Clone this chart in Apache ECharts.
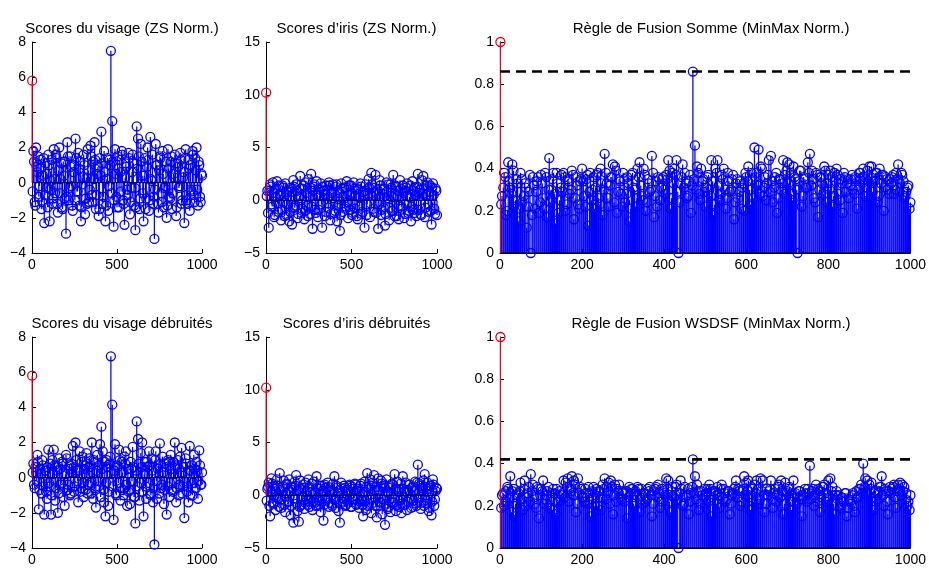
<!DOCTYPE html>
<html>
<head>
<meta charset="utf-8">
<script src="https://cdn.jsdelivr.net/npm/echarts@6/dist/echarts.min.js"></script>
<style>html,body{margin:0;padding:0;background:#fff}#c{width:929px;height:568px}</style>
</head>
<body>
<div id="c"></div>
<script>
// ---------- data ----------
const titles = [
  "Scores du visage (ZS Norm.)",
  "Scores d\u2019iris (ZS Norm.)",
  "R\u00e8gle de Fusion Somme (MinMax Norm.)",
  "Scores du visage d\u00e9bruit\u00e9s",
  "Scores d\u2019iris d\u00e9bruit\u00e9s",
  "R\u00e8gle de Fusion WSDSF (MinMax Norm.)"
];

// impostor sample indices shown (left panels / right panels)
const xLeft = [
  4,8,12,16,20,24,28,32,36,40,44,48,52,56,60,64,68,72,76,80,84,88,92,96,100,
  104,108,112,116,120,124,128,132,136,140,144,148,152,156,160,164,168,172,176,180,184,188,192,196,200,
  204,208,212,216,220,224,228,232,236,240,244,248,252,256,260,264,268,272,276,280,284,288,292,296,300,
  304,308,312,316,320,324,328,332,336,340,344,348,352,356,360,364,368,372,376,380,384,388,392,396,400,
  404,408,412,416,420,424,428,432,436,440,444,448,452,456,460,464,468,472,476,480,484,488,492,496,500,
  504,508,512,516,520,524,528,532,536,540,544,548,552,556,560,564,568,572,576,580,584,588,592,596,600,
  604,608,612,616,620,624,628,632,636,640,644,648,652,656,660,664,668,672,676,680,684,688,692,696,700,
  704,708,712,716,720,724,728,732,736,740,744,748,752,756,760,764,768,772,776,780,784,788,792,796,800,
  804,808,812,816,820,824,828,832,836,840,844,848,852,856,860,864,868,872,876,880,884,888,892,896,900,
  904,908,912,916,920,924,928,932,936,940,944,948,952,956,960,964,968,972,976,980,984,988,992,996,1000];

const xRight = [
  3,5,8,10,13,15,18,20,23,25,28,30,33,35,38,40,43,45,48,50,
  53,55,58,60,63,65,68,70,73,75,78,80,83,85,88,90,93,95,98,100,
  103,105,108,110,113,115,118,120,123,125,128,130,133,135,138,140,143,145,148,150,
  153,155,158,160,163,165,168,170,173,175,178,180,183,185,188,190,193,195,198,200,
  203,205,208,210,213,215,218,220,223,225,228,230,233,235,238,240,243,245,248,250,
  253,255,258,260,263,265,268,270,273,275,278,280,283,285,288,290,293,295,298,300,
  303,305,308,310,313,315,318,320,323,325,328,330,333,335,338,340,343,345,348,350,
  353,355,358,360,363,365,368,370,373,375,378,380,383,385,388,390,393,395,398,400,
  403,405,408,410,413,415,418,420,423,425,428,430,433,435,438,440,443,445,448,450,
  453,455,458,460,463,465,468,470,473,475,478,480,483,485,488,490,493,495,498,500,
  503,505,508,510,513,515,518,520,523,525,528,530,533,535,538,540,543,545,548,550,
  553,555,558,560,563,565,568,570,573,575,578,580,583,585,588,590,593,595,598,600,
  603,605,608,610,613,615,618,620,623,625,628,630,633,635,638,640,643,645,648,650,
  653,655,658,660,663,665,668,670,673,675,678,680,683,685,688,690,693,695,698,700,
  703,705,708,710,713,715,718,720,723,725,728,730,733,735,738,740,743,745,748,750,
  753,755,758,760,763,765,768,770,773,775,778,780,783,785,788,790,793,795,798,800,
  803,805,808,810,813,815,818,820,823,825,828,830,833,835,838,840,843,845,848,850,
  853,855,858,860,863,865,868,870,873,875,878,880,883,885,888,890,893,895,898,900,
  903,905,908,910,913,915,918,920,923,925,928,930,933,935,938,940,943,945,948,950,
  953,955,958,960,963,965,968,970,973,975,978,980,983,985,988,990,993,995,998,1000];

const faceZS = [
  -0.5,1.8,1.2,-1.1,-1.3,2.0,0.9,0.6,1.5,-0.8,-0.2,1.3,0.8,-1.5,-1.1,0.4,1.4,-2.3,-0.7,1.1,
  0.5,-0.3,-1.4,1.6,1.0,-2.2,-0.4,0.1,1.3,-1.2,-0.9,1.9,0.2,-0.6,1.6,1.4,-1.2,-1.7,0.7,2.0,
  -0.6,0.2,1.1,-1.4,-1.5,1.2,0.4,-0.9,1.2,-2.9,-0.8,2.3,1.5,-1.0,-0.3,1.5,0.9,-0.2,-1.3,-1.6,
  0.6,1.0,-1.0,2.5,1.4,-0.5,-0.5,1.7,0.8,-1.3,1.2,-2.2,-1.4,-0.1,0.3,1.6,1.0,-1.8,-0.9,0.3,
  -1.2,1.9,0.7,-1.1,-0.4,2.1,1.5,-0.7,-1.1,1.2,0.2,2.3,1.3,-1.5,-0.7,0.5,0.9,-1.9,-1.5,1.4,
  0.4,2.9,1.1,-1.2,-0.8,1.8,0.6,-2.2,-1.3,0.2,1.4,-1.6,-0.2,1.3,1.0,7.5,-0.6,3.5,1.2,-2.5,
  -1.0,1.9,0.5,-0.8,-1.4,1.5,0.8,-1.4,1.3,0.6,-0.5,1.8,1.6,-1.0,-1.2,-2.4,0.3,1.1,0.9,-0.4,
  -0.7,1.7,1.4,-1.8,-1.1,-0.3,0.6,1.6,1.1,-1.3,-0.3,-2.7,-1.4,3.2,0.8,2.5,1.5,-1.5,-0.9,2.2,
  1.2,0.4,-0.6,-2.2,0.4,1.4,-1.5,-0.9,0.9,2.0,1.3,-1.6,-1.0,2.6,0.2,0.1,1.6,-1.2,-0.8,-3.2,
  -0.4,2.2,1.0,1.0,-1.2,-1.7,0.7,1.5,1.4,-0.6,-1.1,1.8,0.5,-1.4,-0.3,-0.2,1.2,-2.0,-1.3,1.9,
  0.8,-0.8,-0.9,1.2,1.5,-1.5,-0.6,0.5,0.3,1.6,1.1,-1.9,-1.4,1.1,0.9,-0.3,-0.2,1.7,1.3,-1.2,
  -1.0,0.3,0.6,-2.3,1.4,1.9,-0.7,-1.0,-1.2,1.3,0.8,-1.6,1.0,-0.4,-0.5,1.8,1.6,-0.7,-1.1,1.4,
  0.7,2.0,-0.4,-1.3,1.2,1.0,-0.8,-1.1,0.5,0.4];

const irisZS = [
  0.4,0.9,-1.2,-2.6,0.9,1.5,1.3,-0.4,-0.6,1.7,0.7,-1.6,-1.4,0.3,1.1,1.8,-0.3,-1.1,1.4,0.6,
  0.5,-1.9,-0.9,1.4,1.2,-0.2,-1.5,1.6,0.6,-1.4,-0.4,0.8,1.0,-2.0,-1.1,1.2,0.8,-2.3,-0.7,1.9,
  1.3,-0.7,-0.5,1.5,0.9,-1.7,-1.3,0.2,0.4,2.3,1.1,-1.2,-0.8,1.1,1.4,-1.8,-1.0,1.7,0.7,-0.5,
  -1.5,2.0,0.3,-1.3,1.2,2.5,-0.6,-2.7,0.9,1.3,1.5,-0.9,-1.2,1.8,0.5,-1.6,-0.9,0.4,1.0,1.6,
  -0.4,-2.6,1.3,0.9,0.6,-1.5,-1.1,1.4,1.0,-0.3,-0.7,1.7,1.4,-1.9,-1.3,0.7,0.2,1.5,0.8,-1.2,
  -1.0,1.3,1.5,-2.0,-0.5,0.1,0.7,-2.9,-1.4,1.6,1.1,-1.1,0.3,1.2,-0.8,-0.6,1.2,1.8,-0.2,-1.7,
  1.4,0.5,-0.9,1.4,0.7,-1.4,-1.2,1.7,1.1,-0.8,0.4,1.1,-1.5,-1.8,1.0,0.3,-0.6,1.6,1.3,-1.3,
  -1.1,0.8,0.5,-2.6,0.9,1.5,-1.4,-0.4,0.6,2.0,1.2,-1.6,-0.3,2.6,1.5,1.2,-0.8,-1.1,0.8,2.4,
  -1.2,0.6,1.0,-2.7,-0.4,1.9,1.4,-1.4,-0.9,1.0,0.6,-0.7,1.1,-2.4,-1.3,1.7,0.8,0.2,1.5,-1.9,
  -0.7,1.5,1.2,-1.0,-1.0,2.4,0.3,-1.5,1.4,1.3,-1.5,0.4,0.9,-1.8,-0.5,1.9,1.1,-0.6,-0.8,1.4,
  0.7,-1.7,-1.3,0.9,1.2,1.6,0.4,-1.2,-1.0,0.3,1.4,-2.0,-0.6,1.8,0.9,-0.9,-1.2,1.2,0.5,-1.5,
  1.3,2.5,-0.9,0.7,1.0,-1.3,-1.4,1.9,0.6,2.3,1.1,-1.6,-0.7,0.5,1.4,1.7,-0.4,-1.1,0.8,1.4,
  -1.0,-2.3,1.2,1.6,0.5,-0.8,-1.3,1.1,0.9,-1.4];

const fusionSomme = [
  0.23,0.27,0.31,0.38,0.36,0.18,0.20,0.43,0.34,0.31,0.28,0.42,0.39,0.22,0.25,0.35,0.33,0.15,0.21,0.38,
  0.35,0.24,0.27,0.33,0.31,0.12,0.22,0.29,0.37,0.00,0.18,0.36,0.32,0.21,0.29,0.34,0.36,0.19,0.24,0.37,
  0.33,0.26,0.21,0.38,0.36,0.17,0.30,0.45,0.24,0.30,0.35,0.38,0.28,0.14,0.38,0.33,0.19,0.25,0.31,0.37,
  0.29,0.38,0.36,0.20,0.23,0.35,0.34,0.28,0.30,0.39,0.37,0.16,0.26,0.36,0.32,0.23,0.21,0.34,0.35,0.40,
  0.34,0.27,0.22,0.35,0.37,0.13,0.29,0.38,0.25,0.30,0.36,0.21,0.31,0.37,0.38,0.26,0.23,0.40,0.33,0.18,
  0.30,0.47,0.38,0.33,0.26,0.22,0.32,0.36,0.36,0.42,0.24,0.41,0.39,0.19,0.29,0.35,0.34,0.28,0.22,0.38,
  0.35,0.24,0.28,0.36,0.33,0.15,0.21,0.37,0.38,0.31,0.30,0.22,0.26,0.40,0.36,0.43,0.32,0.27,0.25,0.40,
  0.37,0.20,0.24,0.35,0.33,0.29,0.30,0.46,0.38,0.17,0.27,0.34,0.22,0.36,0.35,0.25,0.31,0.35,0.36,0.30,
  0.28,0.37,0.35,0.44,0.39,0.21,0.26,0.38,0.33,0.40,0.37,0.44,0.29,0.00,0.24,0.33,0.36,0.42,0.31,0.38,
  0.33,0.26,0.27,0.34,0.37,0.19,0.32,0.86,0.35,0.51,0.30,0.41,0.38,0.28,0.25,0.40,0.34,0.35,0.29,0.22,
  0.31,0.36,0.37,0.30,0.27,0.44,0.34,0.18,0.23,0.40,0.38,0.44,0.32,0.25,0.28,0.37,0.35,0.40,0.30,0.21,
  0.26,0.38,0.34,0.29,0.30,0.35,0.37,0.16,0.24,0.33,0.35,0.26,0.29,0.34,0.21,0.31,0.33,0.20,0.38,0.36,
  0.34,0.41,0.30,0.23,0.38,0.35,0.26,0.50,0.36,0.38,0.32,0.49,0.28,0.41,0.40,0.27,0.31,0.36,0.25,0.33,
  0.37,0.44,0.29,0.46,0.34,0.24,0.31,0.36,0.38,0.19,0.26,0.35,0.35,0.30,0.33,0.44,0.28,0.37,0.39,0.43,
  0.33,0.42,0.38,0.28,0.25,0.41,0.36,0.35,0.30,0.00,0.34,0.39,0.39,0.22,0.27,0.36,0.35,0.31,0.31,0.43,
  0.38,0.47,0.32,0.39,0.35,0.26,0.24,0.38,0.37,0.17,0.30,0.36,0.36,0.33,0.28,0.41,0.39,0.24,0.33,0.37,
  0.30,0.39,0.36,0.22,0.27,0.38,0.34,0.40,0.37,0.28,0.25,0.35,0.33,0.19,0.38,0.36,0.29,0.33,0.35,0.26,
  0.32,0.35,0.37,0.30,0.28,0.36,0.35,0.21,0.30,0.38,0.38,0.35,0.33,0.40,0.36,0.27,0.31,0.39,0.34,0.41,
  0.36,0.41,0.29,0.34,0.34,0.38,0.38,0.24,0.27,0.40,0.33,0.37,0.37,0.20,0.31,0.36,0.35,0.30,0.28,0.35,
  0.33,0.36,0.37,0.28,0.30,0.38,0.35,0.42,0.29,0.33,0.38,0.37,0.34,0.26,0.27,0.29,0.31,0.32,0.21,0.24];

const faceDenoised = [
  0.3,0.8,-0.4,-0.6,0.6,0.3,-0.2,1.3,0.9,-1.8,-0.7,0.5,0.2,-0.9,1.0,0.7,-0.5,-2.1,0.4,0.4,
  -0.8,-1.2,0.6,1.6,-0.3,-0.5,0.8,-2.1,-1.0,1.0,0.2,1.6,0.7,-1.3,-0.6,0.6,0.4,-2.0,-0.9,1.1,
  0.5,-0.4,-0.3,0.9,0.8,-1.1,-0.6,-1.6,0.2,1.3,1.1,-0.7,-0.4,0.5,0.7,-1.0,-0.9,0.8,0.3,1.8,
  0.6,-0.8,-0.5,2.0,1.0,0.4,-0.2,-1.4,0.4,1.5,-0.8,-0.6,0.9,1.2,-0.3,-1.1,0.5,0.7,-0.7,1.4,
  0.8,-0.9,-0.4,1.1,0.6,-0.3,-0.9,2.0,0.3,-1.2,1.0,0.9,-0.6,-1.7,0.4,1.3,-0.2,-0.5,0.7,1.9,
  -1.1,2.9,0.5,1.5,-0.7,-1.4,0.9,-2.2,-0.3,1.0,0.6,-1.6,-0.8,0.8,1.2,6.9,0.2,4.15,-0.5,-2.4,
  0.4,1.9,-0.9,-1.0,0.7,0.6,-0.3,1.6,1.0,-1.3,-0.6,0.9,0.3,-0.7,-1.0,1.2,0.8,1.5,-0.4,-1.6,
  0.5,-0.8,-0.7,-1.5,0.9,0.5,-0.2,1.75,0.6,-1.1,-1.1,-2.6,0.4,3.2,-0.5,2.2,0.8,-1.3,-0.3,1.4,
  0.6,2.0,-0.8,-2.2,0.2,0.9,-0.5,-1.2,0.9,0.6,-0.3,1.5,0.7,-0.9,-1.0,1.1,0.4,-1.4,-0.6,-3.8,
  1.0,1.5,-0.2,-1.2,0.5,0.7,-0.9,1.95,0.8,-0.6,-0.4,1.2,0.3,-1.5,-0.7,0.8,0.6,-2.1,-0.5,1.0,
  0.9,-1.1,-0.3,1.3,0.5,-0.7,-0.8,0.9,0.2,2.0,0.7,-1.4,-0.6,0.6,1.0,-1.0,-0.4,1.2,0.3,1.7,
  -0.9,-0.5,0.6,-2.3,-0.2,1.1,0.8,-0.8,-0.5,-1.4,0.4,1.8,-1.0,0.4,0.7,-1.0,-0.3,1.3,0.5,-0.6,
  -0.6,0.9,0.4,-1.2,-0.2,1.55,0.7,-0.4,-0.4,0.3];

const irisDenoised = [
  -0.5,0.6,0.8,1.2,-1.0,-2.0,0.3,1.6,1.1,-0.8,-0.7,0.9,0.6,-1.4,-0.2,1.5,0.9,-0.3,-1.1,2.1,
  0.5,-1.2,-0.4,0.4,0.8,1.4,-0.9,-1.6,0.2,1.1,1.0,-0.6,-0.6,1.5,0.4,-1.9,-1.0,0.8,0.7,-2.6,
  -0.3,1.3,0.9,1.9,-0.8,-1.5,0.5,-2.5,-1.1,1.4,0.6,-0.9,-0.2,0.7,1.0,-1.3,-0.7,1.2,0.3,-0.4,
  -0.9,1.5,0.8,-1.1,-0.4,0.3,1.1,-1.4,-0.6,1.3,0.2,-0.7,-1.0,1.8,0.7,-1.0,-0.5,0.6,0.9,-1.6,
  -0.6,0.9,0.4,-2.4,-0.9,1.0,0.7,-0.5,-0.3,1.2,0.8,-1.1,-0.7,0.4,0.5,-0.8,-1.0,1.1,0.3,1.8,
  -0.4,-1.2,0.9,0.7,-0.6,-1.5,0.2,-2.6,-0.8,1.2,0.6,-0.6,-0.3,0.9,0.7,-1.0,-0.9,0.5,0.4,-0.7,
  -0.5,1.0,0.9,-1.1,-1.1,0.8,0.6,-0.4,-0.3,1.1,1.0,-0.9,-0.8,0.6,0.4,-1.2,-0.6,0.9,1.1,-0.5,
  -0.9,-2.0,0.3,1.3,-0.5,-1.4,0.8,2.1,-1.0,-0.8,0.6,1.5,-0.4,-1.7,0.9,1.2,-0.7,1.9,0.5,-1.0,
  0.8,-2.1,-1.0,1.6,0.5,-0.6,-0.7,1.4,1.1,-1.8,-0.4,0.7,0.9,-2.8,-0.8,1.5,0.3,-1.3,-1.1,0.9,
  0.7,-1.6,-0.6,1.1,1.0,-0.7,-0.3,2.0,0.6,-1.5,-0.9,1.3,0.4,-1.1,-0.5,0.6,1.1,-1.7,-0.8,1.8,
  0.6,-0.9,-0.9,1.2,0.3,-1.4,-0.6,0.5,1.0,1.0,-0.4,-1.2,0.7,0.8,-1.1,-0.5,0.5,1.3,-0.8,-1.0,
  1.2,2.9,-0.3,1.1,0.9,-1.3,-0.7,0.7,0.4,1.4,-1.0,2.0,0.8,-0.8,-0.5,1.2,0.6,-1.5,-1.2,0.9,
  0.9,-1.9,-0.6,1.5,1.0,-1.0,-0.4,0.4,0.7,0.6];

const fusionWSDSF = [
  0.19,0.25,0.26,0.20,0.22,0.27,0.29,0.28,0.24,0.34,0.17,0.27,0.28,0.15,0.21,0.24,0.25,0.26,0.27,0.31,
  0.23,0.18,0.28,0.32,0.20,0.24,0.26,0.29,0.22,0.35,0.27,0.30,0.24,0.21,0.19,0.29,0.28,0.14,0.25,0.28,
  0.27,0.32,0.21,0.23,0.25,0.27,0.29,0.19,0.23,0.26,0.18,0.28,0.26,0.16,0.28,0.22,0.22,0.27,0.24,0.25,
  0.26,0.32,0.24,0.31,0.29,0.33,0.22,0.28,0.27,0.34,0.25,0.32,0.30,0.17,0.21,0.33,0.26,0.29,0.28,0.24,
  0.24,0.22,0.28,0.26,0.21,0.29,0.26,0.15,0.23,0.27,0.29,0.20,0.25,0.28,0.20,0.27,0.27,0.18,0.24,0.30,
  0.28,0.33,0.23,0.29,0.26,0.31,0.21,0.32,0.29,0.16,0.25,0.30,0.22,0.28,0.27,0.30,0.24,0.23,0.26,0.27,
  0.22,0.26,0.27,0.14,0.24,0.29,0.26,0.28,0.28,0.21,0.20,0.27,0.25,0.29,0.28,0.17,0.23,0.28,0.21,0.26,
  0.26,0.22,0.23,0.28,0.27,0.29,0.25,0.15,0.21,0.27,0.28,0.29,0.24,0.30,0.26,0.19,0.22,0.28,0.27,0.26,
  0.25,0.33,0.28,0.32,0.22,0.17,0.27,0.29,0.24,0.24,0.29,0.30,0.23,0.00,0.26,0.32,0.28,0.20,0.21,0.29,
  0.24,0.25,0.28,0.16,0.22,0.26,0.29,0.42,0.26,0.34,0.23,0.30,0.27,0.18,0.21,0.27,0.25,0.23,0.28,0.25,
  0.26,0.28,0.22,0.30,0.28,0.15,0.24,0.27,0.27,0.26,0.21,0.29,0.25,0.19,0.28,0.30,0.23,0.28,0.26,0.22,
  0.23,0.27,0.27,0.16,0.21,0.25,0.26,0.28,0.29,0.32,0.24,0.28,0.27,0.20,0.22,0.27,0.28,0.34,0.25,0.31,
  0.27,0.32,0.24,0.18,0.29,0.28,0.22,0.30,0.26,0.32,0.28,0.21,0.23,0.33,0.27,0.32,0.25,0.17,0.21,0.28,
  0.25,0.27,0.28,0.32,0.23,0.19,0.26,0.28,0.22,0.25,0.29,0.30,0.24,0.32,0.27,0.16,0.21,0.31,0.26,0.27,
  0.28,0.29,0.22,0.18,0.26,0.32,0.24,0.26,0.21,0.24,0.27,0.27,0.23,0.15,0.25,0.23,0.28,0.26,0.22,0.28,
  0.26,0.39,0.23,0.27,0.28,0.20,0.25,0.30,0.22,0.28,0.27,0.17,0.24,0.29,0.29,0.30,0.26,0.22,0.23,0.32,
  0.24,0.33,0.27,0.29,0.21,0.16,0.25,0.27,0.23,0.25,0.20,0.19,0.24,0.22,0.22,0.26,0.26,0.15,0.19,0.23,
  0.22,0.21,0.25,0.26,0.20,0.17,0.27,0.24,0.24,0.28,0.28,0.30,0.26,0.40,0.29,0.33,0.27,0.32,0.25,0.30,
  0.28,0.31,0.24,0.18,0.26,0.27,0.23,0.26,0.27,0.29,0.29,0.34,0.25,0.20,0.28,0.27,0.22,0.16,0.27,0.29,
  0.26,0.28,0.29,0.30,0.24,0.19,0.27,0.30,0.28,0.31,0.25,0.30,0.27,0.29,0.23,0.26,0.20,0.22,0.18,0.25];

// genuine (client) score, shown in red at sample 1
const genuineX = 1;
const genuineValues = [5.8, 10.2, 1.0, 5.8, 10.2, 1.0];
// decision thresholds (right panels)
const thresholds = [null, null, 0.86, null, null, 0.42];
// axis limits: [min, max, interval]
const yLimits = [[-4, 8, 2], [-5, 15, 5], [0, 1, 0.2], [-4, 8, 2], [-5, 15, 5], [0, 1, 0.2]];
const xLimits = [[0, 1000, 500], [0, 1000, 500], [0, 1000, 200], [0, 1000, 500], [0, 1000, 500], [0, 1000, 200]];

// ---------- layout ----------
const FONT = '"Liberation Sans", Arial, Helvetica, sans-serif';
const BLUE = '#0000ff', RED = '#e8001c';
const grids = [
  {left: 32, top: 42, width: 170, height: 211},
  {left: 266, top: 42, width: 171, height: 211},
  {left: 500, top: 42, width: 412, height: 211},
  {left: 32, top: 337, width: 170, height: 211},
  {left: 266, top: 337, width: 171, height: 211},
  {left: 500, top: 337, width: 412, height: 211}
];
const panelX = [xLeft, xLeft, xRight, xLeft, xLeft, xRight];
const panelY = [faceZS, irisZS, fusionSomme, faceDenoised, irisDenoised, fusionWSDSF];
const STEM_W = 1.25, RING_W = 1.3;

function stemSeries(i, data, color, z) {
  return {
    type: 'custom', xAxisIndex: i, yAxisIndex: i, data: data, z: z, silent: true, clip: false,
    animation: false,
    renderItem: function (params, api) {
      const a = api.coord([api.value(0), 0]);
      const b = api.coord([api.value(0), api.value(1)]);
      return {type: 'line', shape: {x1: a[0], y1: a[1], x2: b[0], y2: b[1]},
              style: {stroke: color, lineWidth: STEM_W}};
    }
  };
}
function circleSeries(i, data, color, z) {
  return {
    type: 'scatter', xAxisIndex: i, yAxisIndex: i, data: data, z: z, silent: true, clip: false,
    animation: false, symbol: 'circle', symbolSize: 9,
    itemStyle: {color: 'rgba(0,0,0,0)', borderColor: color, borderWidth: RING_W, opacity: 1}
  };
}
function fmt(v) {
  const r = Math.round(v * 10) / 10;
  return String(r).replace('-', '\u2212');
}

const option = {
  animation: false,
  backgroundColor: '#ffffff',
  title: [], grid: [], xAxis: [], yAxis: [], series: []
};

for (let i = 0; i < 6; i++) {
  const g = grids[i];
  option.grid.push(Object.assign({containLabel: false}, g));
  option.title.push({
    text: titles[i], left: g.left + g.width / 2, top: i < 3 ? 16 : 311, textAlign: 'center',
    textStyle: {fontFamily: FONT, fontSize: 15, fontWeight: 'normal', color: '#000'}
  });
  const axisCommon = {
    gridIndex: i, type: 'value',
    axisLine: {show: true, onZero: false, lineStyle: {color: '#000', width: 1}},
    axisTick: {show: true, inside: true, length: 4, lineStyle: {color: '#000', width: 1}},
    splitLine: {show: false},
    axisLabel: {color: '#000', fontFamily: FONT, fontSize: 14, formatter: fmt, showMinLabel: true, showMaxLabel: true}
  };
  option.xAxis.push(Object.assign({}, axisCommon, {
    min: xLimits[i][0], max: xLimits[i][1], interval: xLimits[i][2],
    axisLabel: Object.assign({}, axisCommon.axisLabel, {margin: 5})
  }));
  option.yAxis.push(Object.assign({}, axisCommon, {
    min: yLimits[i][0], max: yLimits[i][1], interval: yLimits[i][2],
    axisLabel: Object.assign({}, axisCommon.axisLabel, {margin: 6})
  }));

  const xs = panelX[i], ys = panelY[i];
  const pts = xs.map(function (x, k) { return [x, ys[k]]; });
  option.series.push(stemSeries(i, pts, BLUE, 2));
  option.series.push(circleSeries(i, pts, BLUE, 3));
  // stem baseline
  option.series.push({
    type: 'line', xAxisIndex: i, yAxisIndex: i, data: [[xLimits[i][0], 0], [xLimits[i][1], 0]],
    symbol: 'none', silent: true, z: 4, animation: false,
    lineStyle: {color: '#000', width: 1}
  });
  const gen = [[genuineX, genuineValues[i]]];
  option.series.push(stemSeries(i, gen, RED, 5));
  option.series.push(circleSeries(i, gen, RED, 6));
  if (thresholds[i] !== null) {
    option.series.push({
      type: 'line', xAxisIndex: i, yAxisIndex: i,
      data: [[xLimits[i][0], thresholds[i]], [xLimits[i][1], thresholds[i]]],
      symbol: 'none', silent: true, z: 7, animation: false,
      lineStyle: {color: '#000', width: 2.6, type: [10, 6]}
    });
  }
}

const chart = echarts.init(document.getElementById('c'), null, {renderer: 'canvas'});
chart.setOption(option);
</script>
</body>
</html>
